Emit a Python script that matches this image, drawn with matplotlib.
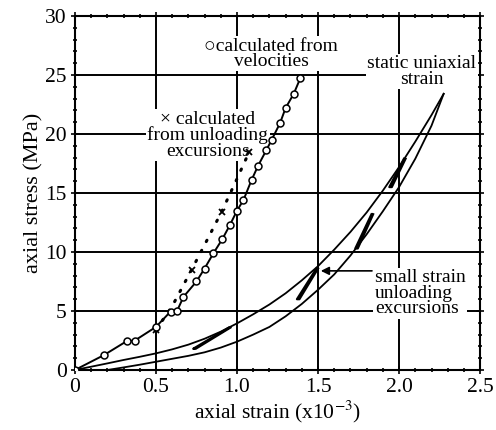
import numpy as np
import matplotlib.pyplot as plt
from matplotlib.ticker import MultipleLocator

plt.rcParams['font.family'] = ['Liberation Serif', 'DejaVu Serif']
plt.rcParams['mathtext.fontset'] = 'stix'

# velocity-derived curve (open circles)
vel_strain = [0, 0.18, 0.32, 0.37, 0.50, 0.59, 0.63, 0.67, 0.75, 0.80, 0.855, 0.91,
              0.957, 1.0, 1.04, 1.09, 1.13, 1.18, 1.214, 1.265, 1.30, 1.35, 1.39]
vel_stress = [0, 1.27, 2.45, 2.5, 3.65, 4.95, 5.0, 6.2, 7.5, 8.6, 9.9, 11.1,
              12.3, 13.5, 14.4, 16.1, 17.3, 18.6, 19.5, 20.9, 22.2, 23.4, 24.7]

# from unloading excursions (crosses + dotted line)
exc_strain = [0.50, 0.72, 0.905, 1.076]
exc_stress = [3.4, 8.5, 13.4, 18.5]
dot_strain = [0.50, 0.60, 0.72, 0.80, 0.905, 1.0, 1.076]
dot_stress = [3.4, 5.4, 8.5, 10.6, 13.4, 16.2, 18.5]

# static uniaxial strain: loading and unloading branches
load_strain = [0, 0.1, 0.2, 0.3, 0.4, 0.5, 0.6, 0.7, 0.8, 0.9, 1.0, 1.1, 1.2, 1.3,
               1.4, 1.5, 1.6, 1.7, 1.8, 1.9, 2.0, 2.1, 2.2, 2.275]
load_stress = [0, 0.28, 0.56, 0.85, 1.12, 1.41, 1.75, 2.15, 2.65, 3.25, 3.95, 4.72, 5.55, 6.5,
               7.6, 8.8, 10.2, 11.7, 13.35, 15.2, 17.2, 19.35, 21.6, 23.4]
unload_strain = [2.275, 2.2, 2.1, 2.0, 1.9, 1.8, 1.7, 1.6, 1.5, 1.4, 1.3, 1.2, 1.1, 1.0,
                 0.9, 0.8, 0.7, 0.6, 0.5, 0.4, 0.3, 0.2]
unload_stress = [23.4, 20.7, 17.9, 15.5, 13.45, 11.5, 9.7, 8.1, 6.8, 5.6, 4.55, 3.65, 3.0, 2.4,
                 1.9, 1.5, 1.2, 0.95, 0.7, 0.45, 0.22, 0]

# small strain unloading excursions (down and back up)
loops = [
    ([0.95, 0.73, 0.745, 0.96], [3.6, 1.8, 1.8, 3.6]),
    ([1.49, 1.37, 1.385, 1.50], [8.6, 6.0, 6.0, 8.6]),
    ([1.83, 1.73, 1.745, 1.84], [13.2, 10.3, 10.3, 13.2]),
    ([2.03, 1.94, 1.955, 2.04], [17.9, 15.5, 15.5, 17.9]),
]

fig = plt.figure(figsize=(4.96, 4.30), dpi=100)
ax = fig.add_axes([0.151, 0.1395, 0.817, 0.8235])

ax.plot(load_strain, load_stress, color='black', lw=1.3, zorder=3)
ax.plot(unload_strain, unload_stress, color='black', lw=1.3, zorder=3)
for xs, ys in loops:
    ax.plot(xs, ys, color='black', lw=1.6, zorder=3)

ax.plot(dot_strain, dot_stress, color='black', lw=2.2, linestyle=(0, (0.5, 3.2)),
        dash_capstyle='round', zorder=3)
ax.plot(exc_strain, exc_stress, 'x', color='black', ms=5, mew=1.3, zorder=4)
ax.plot(vel_strain, vel_stress, '-o', color='black', lw=1.4, ms=5,
        mfc='white', mec='black', mew=1.1, zorder=5)

ax.set_xlim(0, 2.5)
ax.set_ylim(0, 30)
ax.xaxis.set_minor_locator(MultipleLocator(0.1))
ax.yaxis.set_major_locator(MultipleLocator(5))
ax.yaxis.set_minor_locator(MultipleLocator(1))
ax.set_xticks([0, 0.5, 1.0, 1.5, 2.0, 2.5])
ax.set_xticklabels(['0', '0.5', '1.0', '1.5', '2.0', '2.5'])
ax.tick_params(which='both', direction='inout', top=True, right=True, labelsize=15.5, width=1.2)
ax.tick_params(which='major', length=6, pad=3)
ax.tick_params(which='minor', length=3)
ax.grid(True, which='major', color='black', lw=1.4, zorder=1)
for s in ax.spines.values():
    s.set_linewidth(1.5)

ax.set_xlabel('axial strain (x10$^{-3}$)', fontsize=15.5, labelpad=1)
ax.set_ylabel('axial stress (MPa)', fontsize=16, labelpad=1)

box = dict(facecolor='white', edgecolor='none', pad=1)
ax.text(1.21, 26.8, '\u25cbcalculated from\nvelocities', fontsize=14, ha='center',
        va='center', linespacing=0.85, bbox=box, zorder=2)
ax.text(0.82, 19.9, '\u00d7 calculated\nfrom unloading\nexcursions', fontsize=14, ha='center',
        va='center', linespacing=0.9, bbox=box, zorder=2)
ax.text(2.14, 25.3, 'static uniaxial\nstrain', fontsize=14, ha='center',
        va='center', linespacing=0.9, bbox=box, zorder=2)
ax.text(1.85, 6.5, 'small strain\nunloading\nexcursions', fontsize=14, ha='left',
        va='center', linespacing=0.9, bbox=box, zorder=2)
ax.annotate('', xy=(1.5, 8.4), xytext=(1.85, 8.4),
            arrowprops=dict(arrowstyle='-|>', color='black', lw=1.2, mutation_scale=12),
            zorder=4)

fig.savefig('out.png', dpi=100)
